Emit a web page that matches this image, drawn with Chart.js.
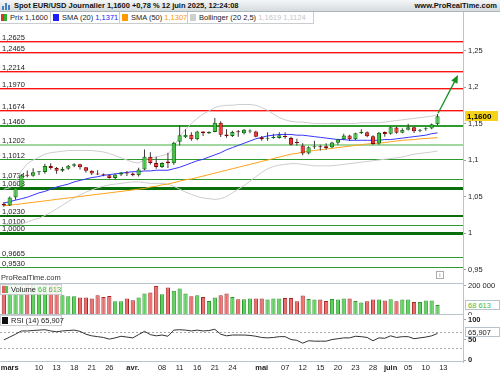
<!DOCTYPE html>
<html><head><meta charset="utf-8">
<script src="https://cdn.jsdelivr.net/npm/chart.js@4.4.1/dist/chart.umd.min.js"></script>
<style>
html,body{margin:0;padding:0;background:#fff;width:500px;height:375px;overflow:hidden;font-family:"Liberation Sans",Arial,sans-serif;}
.a{position:absolute;}
#hdr{left:0;top:0;width:500px;height:12px;background:linear-gradient(#f4f6f7,#d6dbde);border-bottom:1px solid #a9b4bb;box-sizing:border-box;}
#title{left:14px;top:1px;font-weight:bold;font-size:7.5px;line-height:10px;color:#111;white-space:nowrap;}
#site{right:3px;top:1px;font-weight:bold;font-size:7.5px;line-height:10px;color:#111;white-space:nowrap;}
#ico{left:2px;top:2px;width:9px;height:8px;}
#ico i{position:absolute;bottom:0;width:2px;background:#4a7fc0;}
.leg{top:12px;height:12px;border-right:1px solid #c9cdd0;border-bottom:1px solid #c9cdd0;box-sizing:border-box;font-size:7.5px;line-height:11px;color:#222;white-space:nowrap;background:#fff;}
.sw{position:absolute;top:2px;width:6px;height:7px;}
.vl{left:463px;top:12px;width:1px;height:350px;background:#b9c4cb;}
.hl{left:0;width:463px;height:1px;background:#b9c4cb;}
canvas{position:absolute;left:0;}
.box{font-size:7.5px;line-height:10px;white-space:nowrap;box-sizing:border-box;}
</style></head>
<body>
<canvas id="cMain" width="500" height="270" style="top:13px"></canvas>
<canvas id="cVol" width="500" height="32" style="top:283px"></canvas>
<canvas id="cRsi" width="500" height="60" style="top:315px"></canvas>

<div id="hdr" class="a">
  <div id="ico" class="a"><i style="left:0;height:4px"></i><i style="left:3px;height:7px"></i><i style="left:6px;height:5px"></i></div>
  <div id="title" class="a">Spot EUR/USD Journalier 1,1600 +0,78 % 12 juin 2025, 12:24:08</div>
  <div id="site" class="a">www.ProRealTime.com</div>
</div>
<div class="a leg" style="left:0;width:51px;"><span class="sw" style="left:1px;width:3px;background:#e03030"></span><span class="sw" style="left:4px;width:3px;background:#30b030"></span><span class="a" style="left:10px">Prix 1,1600</span></div>
<div class="a leg" style="left:51px;width:69px;"><span class="sw" style="left:2px;background:#2020ff"></span><span class="a" style="left:11px">SMA (20) <span style="color:#2020ff">1,1371</span></span></div>
<div class="a leg" style="left:120px;width:68px;"><span class="sw" style="left:2px;background:#ff9900"></span><span class="a" style="left:11px">SMA (50) <span style="color:#ff9900">1,1307</span></span></div>
<div class="a leg" style="left:188px;width:126px;"><span class="sw" style="left:2px;background:#cfcfcf"></span><span class="a" style="left:11px">Bollinger (20 2,5) <span style="color:#c4c4c4">1,1619 1,1124</span></span></div>

<div class="a vl"></div>
<div class="a hl" style="top:283px"></div>
<div class="a hl" style="top:314px"></div>
<div class="a hl" style="top:361px"></div>

<div class="a box" style="left:1px;top:273px;color:#333;">ProRealTime.com</div>
<div class="a box" style="left:436px;top:271px;width:8px;height:8px;border:1px solid #aaa;font-size:6px;line-height:6px;text-align:center;color:#777;">i</div>
<div class="a box" style="left:0;top:284px;width:62px;height:11px;border:1px solid #c9cdd0;background:rgba(255,255,255,0.85);color:#222;"><span class="sw" style="left:1px;top:1px;width:3px;background:#e06060"></span><span class="sw" style="left:4px;top:1px;width:3px;background:#50c050"></span><span class="a" style="left:10px;top:0">Volume <span style="color:#44bb44">68 613</span></span></div>
<div class="a box" style="left:465px;top:300px;width:35px;height:10px;border:1px solid #b8c4cb;background:#fff;color:#44bb44;padding-left:2px;">68 613</div>
<div class="a box" style="left:0;top:315px;width:62px;height:11px;border:1px solid #c9cdd0;background:#fff;color:#222;"><span class="sw" style="left:1px;top:1px;width:6px;background:#111"></span><span class="a" style="left:10px;top:0">RSI (14) 65,907</span></div>
<div class="a box" style="left:465px;top:327px;width:35px;height:10px;border:1px solid #b8c4cb;background:#fff;color:#222;padding-left:2px;">65,907</div>

<script>
// ---------- DATA ----------
const dates = ['02-28','03-03','03-04','03-05','03-06','03-07','03-10','03-11','03-12','03-13','03-14','03-17','03-18','03-19','03-20','03-21','03-24','03-25','03-26','03-27','03-28','03-31','04-01','04-02','04-03','04-04','04-07','04-08','04-09','04-10','04-11','04-14','04-15','04-16','04-17','04-18','04-21','04-22','04-23','04-24','04-25','04-28','04-29','04-30','05-01','05-02','05-05','05-06','05-07','05-08','05-09','05-12','05-13','05-14','05-15','05-16','05-19','05-20','05-21','05-22','05-23','05-26','05-27','05-28','05-29','05-30','06-02','06-03','06-04','06-05','06-06','06-09','06-10','06-11','06-12'];
const open  = [1.0400,1.0376,1.0485,1.0625,1.0790,1.0785,1.0833,1.0835,1.0918,1.0890,1.0852,1.0880,1.0922,1.0943,1.0900,1.0852,1.0815,1.0800,1.0790,1.0753,1.0800,1.0830,1.0815,1.0790,1.0870,1.1045,1.0960,1.0905,1.0978,1.0955,1.1250,1.1310,1.1345,1.1285,1.1390,1.1365,1.1385,1.1510,1.1350,1.1330,1.1385,1.1365,1.1390,1.1390,1.1310,1.1290,1.1300,1.1300,1.1320,1.1300,1.1245,1.1200,1.1090,1.1175,1.1180,1.1190,1.1175,1.1235,1.1285,1.1335,1.1285,1.1370,1.1380,1.1325,1.1225,1.1385,1.1360,1.1445,1.1375,1.1415,1.1450,1.1400,1.1420,1.1430,1.1490];
const high  = [1.0425,1.0500,1.0630,1.0805,1.0855,1.0888,1.0850,1.0947,1.0955,1.0905,1.0905,1.0930,1.0955,1.0950,1.0905,1.0860,1.0858,1.0815,1.0800,1.0810,1.0833,1.0850,1.0830,1.0895,1.1145,1.1107,1.1046,1.0970,1.1100,1.1250,1.1475,1.1420,1.1380,1.1400,1.1395,1.1395,1.1574,1.1530,1.1420,1.1400,1.1410,1.1425,1.1420,1.1400,1.1330,1.1380,1.1360,1.1380,1.1380,1.1320,1.1290,1.1230,1.1190,1.1265,1.1210,1.1230,1.1250,1.1290,1.1360,1.1345,1.1375,1.1420,1.1390,1.1340,1.1385,1.1390,1.1455,1.1455,1.1435,1.1495,1.1455,1.1425,1.1450,1.1500,1.1631];
const low   = [1.0360,1.0370,1.0455,1.0620,1.0765,1.0770,1.0795,1.0810,1.0870,1.0810,1.0835,1.0865,1.0900,1.0870,1.0830,1.0795,1.0795,1.0776,1.0745,1.0733,1.0780,1.0780,1.0776,1.0775,1.0860,1.0940,1.0880,1.0890,1.0890,1.0935,1.1200,1.1300,1.1265,1.1270,1.1330,1.1355,1.1380,1.1315,1.1306,1.1315,1.1320,1.1350,1.1365,1.1310,1.1265,1.1265,1.1290,1.1290,1.1290,1.1200,1.1200,1.1065,1.1080,1.1150,1.1130,1.1140,1.1160,1.1210,1.1270,1.1260,1.1270,1.1355,1.1310,1.1210,1.1210,1.1320,1.1345,1.1360,1.1365,1.1405,1.1370,1.1380,1.1400,1.1420,1.1480];
const close = [1.0376,1.0485,1.0625,1.0790,1.0785,1.0833,1.0835,1.0918,1.0890,1.0852,1.0880,1.0922,1.0943,1.0900,1.0852,1.0815,1.0800,1.0790,1.0753,1.0800,1.0830,1.0815,1.0790,1.0870,1.1045,1.0960,1.0905,1.0960,1.0955,1.1235,1.1340,1.1345,1.1285,1.1390,1.1365,1.1385,1.1510,1.1345,1.1330,1.1385,1.1380,1.1415,1.1400,1.1320,1.1285,1.1295,1.1310,1.1340,1.1315,1.1210,1.1233,1.1090,1.1175,1.1180,1.1175,1.1165,1.1240,1.1285,1.1335,1.1285,1.1365,1.1385,1.1325,1.1220,1.1375,1.1355,1.1450,1.1375,1.1415,1.1450,1.1395,1.1415,1.1420,1.1490,1.1600];
const sma20 = [1.041,1.043,1.045,1.047,1.049,1.052,1.055,1.057,1.060,1.063,1.065,1.067,1.070,1.072,1.074,1.076,1.077,1.079,1.080,1.081,1.082,1.083,1.084,1.084,1.085,1.085,1.086,1.086,1.086,1.088,1.090,1.093,1.096,1.099,1.101,1.104,1.107,1.110,1.114,1.117,1.120,1.123,1.126,1.129,1.131,1.133,1.134,1.135,1.135,1.135,1.134,1.134,1.133,1.132,1.131,1.130,1.129,1.128,1.128,1.127,1.127,1.127,1.127,1.127,1.127,1.128,1.128,1.129,1.130,1.131,1.132,1.133,1.134,1.136,1.1371];
const sma50 = [1.0375,1.038,1.039,1.040,1.041,1.042,1.043,1.044,1.045,1.046,1.047,1.048,1.049,1.050,1.051,1.052,1.053,1.054,1.055,1.056,1.057,1.058,1.059,1.060,1.061,1.063,1.064,1.066,1.067,1.069,1.071,1.073,1.074,1.076,1.078,1.080,1.082,1.084,1.086,1.088,1.090,1.092,1.094,1.096,1.098,1.100,1.102,1.104,1.106,1.108,1.109,1.111,1.112,1.113,1.114,1.115,1.116,1.117,1.118,1.119,1.120,1.121,1.122,1.1225,1.123,1.124,1.125,1.126,1.127,1.1275,1.128,1.129,1.1295,1.130,1.1307];
const bbUpper = [1.060,1.062,1.070,1.085,1.095,1.100,1.104,1.108,1.110,1.111,1.112,1.113,1.113,1.113,1.113,1.113,1.112,1.111,1.109,1.106,1.103,1.100,1.097,1.096,1.100,1.103,1.104,1.106,1.108,1.118,1.132,1.142,1.150,1.157,1.163,1.167,1.172,1.174,1.175,1.175,1.176,1.176,1.176,1.175,1.172,1.168,1.163,1.158,1.155,1.153,1.152,1.152,1.151,1.150,1.150,1.150,1.150,1.150,1.150,1.150,1.150,1.151,1.151,1.151,1.151,1.152,1.153,1.154,1.155,1.156,1.157,1.158,1.159,1.160,1.1619];
const bbLower = [1.012,1.012,1.012,1.012,1.015,1.018,1.020,1.024,1.028,1.033,1.038,1.043,1.048,1.052,1.056,1.059,1.062,1.064,1.066,1.067,1.068,1.069,1.070,1.070,1.069,1.068,1.068,1.068,1.067,1.064,1.060,1.056,1.053,1.050,1.048,1.047,1.046,1.047,1.050,1.055,1.060,1.065,1.071,1.077,1.083,1.088,1.091,1.093,1.094,1.095,1.095,1.094,1.093,1.092,1.092,1.092,1.092,1.093,1.094,1.095,1.096,1.097,1.098,1.099,1.100,1.101,1.102,1.103,1.104,1.106,1.108,1.109,1.110,1.111,1.1124];
const volume = [205000,215000,235000,250000,240000,220000,200000,215000,210000,205000,135000,128000,128000,119000,119000,112000,135000,123000,130000,93000,93000,112000,100000,119000,147000,154000,198000,142000,188000,165000,181000,147000,128000,135000,123000,95000,119000,135000,147000,123000,107000,107000,112000,112000,112000,105000,112000,112000,116000,116000,93000,133000,109000,105000,105000,95000,109000,105000,112000,112000,95000,86000,93000,105000,105000,98000,107000,93000,105000,105000,88000,88000,98000,98000,68613];
const rsi = [50,57,64,72,72,73,74,75,72,70,72,73,74,71,64,60,58,56,52,55,59,57,55,63,71,63,60,62,59,74,75,74,72,74,72,73,76,64,60,62,62,62,61,59,56,55,56,58,58,51,49,42,48,47,47,47,51,53,55,55,59,58,56,48,55,54,60,56,58,58,53,55,57,60,65.907];

const levelPrices = [1.2625,1.2465,1.2214,1.1970,1.1674,1.1460,1.1202,1.1012,1.0734,1.0608,1.0230,1.0100,1.0000,0.9665,0.9530];
const levelLabels = ['1,2625','1,2465','1,2214','1,1970','1,1674','1,1460','1,1202','1,1012','1,0734','1,0608','1,0230','1,0100','1,0000','0,9665','0,9530'];
const priceTicks = [0.95,1.0,1.05,1.1,1.15,1.2,1.25];
const priceTickLabels = ['0,95','1','1,05','1,1','1,15','1,2','1,25'];
const volTicks = [0,100000,200000];
const volTickLabels = ['0','100 000','200 000'];
const rsiTicks = [0,50,100];
const rsiTickLabels = ['0','50','100'];
const xTickIndex = [1,6,9,12,15,18,22,27,30,33,36,39,44,48,51,54,57,60,63,66,69,72,75];
const xTickLabels = ['mars','10','13','18','21','26','avr.','08','11','16','21','24','mai','07','12','15','20','23','28','juin','05','10','13'];
const monthLabels = ['mars','avr.','mai','juin'];
const arrowFrom = [74.1, 1.1640];
const arrowTo = [77.5, 1.2165];
const lastPriceLabel = '1,1600';

// ---------- STYLES ----------
const LVL_RED='rgb(250,20,20)', G1='#2f9a2f', GL='#9fd79f', GD='#0a6e0a';
const levelStyles = [[LVL_RED,1.4],[LVL_RED,1.4],[LVL_RED,1.4],[LVL_RED,1.4],[LVL_RED,1.4],[G1,2],[GL,2],[G1,1],[G1,1],[GD,3],[GD,2],[G1,1],[GD,3],[G1,1],[G1,1]];
const X_MIN = -0.655, X_MAX = 78.35, AXIS_W = 37;
const FONT = 'Liberation Sans';
Chart.defaults.font.family = FONT;
Chart.defaults.font.size = 7.5;
Chart.defaults.color = '#222';
Chart.defaults.animation = false;

const upCol='#3dc43d', upBd='#0b6b0b', dnCol='#f03232', dnBd='#8b0000';
const isUp = i => close[i] >= open[i];
const xs = dates.map((d,i)=>i);

function rightAxis(min,max,ticks,labels,extra){
  return Object.assign({
    position:'right', min, max,
    afterBuildTicks: s => { s.ticks = ticks.map(v=>({value:v})); },
    afterFit: s => { s.width = AXIS_W; s.paddingTop = 0; s.paddingBottom = 0; },
    ticks:{ callback:(v,i)=>labels[i], padding:2, color:'#222', font:{size:7.5} },
    grid:{ drawOnChartArea:false, drawTicks:true, tickLength:3, color:'#9aa6ad' },
    border:{ display:true, color:'#b9c4cb' }
  }, extra||{});
}
const hiddenX = { type:'linear', min:X_MIN, max:X_MAX, offset:false, display:false,
  afterFit: s=>{ s.paddingLeft=0; s.paddingRight=0; } };

const levelsPlugin = {
  id:'levels',
  beforeDatasetsDraw(chart){
    const {ctx, chartArea:a, scales:{y}} = chart;
    ctx.save();
    levelPrices.forEach((p,k)=>{
      const c = levelStyles[k][0], w = levelStyles[k][1];
      const top = Math.round(y.getPixelForValue(p) - w/2);
      ctx.fillStyle = c;
      ctx.fillRect(a.left, top, a.right - a.left, w);
      ctx.fillStyle='#222'; ctx.font='7.5px '+FONT; ctx.textBaseline='alphabetic'; ctx.textAlign='left';
      ctx.fillText(levelLabels[k], 2, top - 1.5);
    });
    ctx.restore();
  },
  afterDatasetsDraw(chart){
    const {ctx, scales:{x,y}} = chart;
    const x0=x.getPixelForValue(arrowFrom[0]), y0=y.getPixelForValue(arrowFrom[1]);
    const x1=x.getPixelForValue(arrowTo[0]), y1=y.getPixelForValue(arrowTo[1]);
    const ang=Math.atan2(y1-y0,x1-x0), L=8, W=3.5;
    ctx.save();
    ctx.strokeStyle='#14911f'; ctx.fillStyle='#14911f'; ctx.lineWidth=1.3;
    ctx.beginPath(); ctx.moveTo(x0,y0);
    ctx.lineTo(x1-Math.cos(ang)*L*0.8, y1-Math.sin(ang)*L*0.8); ctx.stroke();
    ctx.beginPath(); ctx.moveTo(x1,y1);
    ctx.lineTo(x1-Math.cos(ang)*L-Math.sin(ang)*W, y1-Math.sin(ang)*L+Math.cos(ang)*W);
    ctx.lineTo(x1-Math.cos(ang)*L+Math.sin(ang)*W, y1-Math.sin(ang)*L-Math.cos(ang)*W);
    ctx.closePath(); ctx.fill();
    ctx.restore();
  },
  afterDraw(chart){
    const {ctx, chartArea:a, scales:{y}} = chart;
    const py = Math.round(y.getPixelForValue(close[close.length-1]));
    ctx.save();
    ctx.fillStyle='#f5d31a'; ctx.fillRect(a.right+2, py-5, 33, 10);
    ctx.fillStyle='#000'; ctx.font='bold 8px '+FONT; ctx.textBaseline='middle'; ctx.textAlign='left';
    ctx.fillText(lastPriceLabel, a.right+4, py+0.5);
    ctx.restore();
  }
};

const lineDs = (data,color,order)=>({ type:'line', data:xs.map(i=>({x:i,y:data[i]})), borderColor:color, borderWidth:1, pointRadius:0, tension:0, order });

new Chart(document.getElementById('cMain'),{
  type:'bar',
  data:{ datasets:[
    lineDs(bbUpper,'#cdcdcd',6),
    lineDs(bbLower,'#cdcdcd',6),
    lineDs(sma50,'#ffa21a',5),
    lineDs(sma20,'#3535ff',4),
    { data:xs.map(i=>({x:i,y:[low[i],high[i]]})), backgroundColor:'#3a3a3a', borderWidth:0, grouped:false, maxBarThickness:1, order:2 },
    { data:xs.map(i=>({x:i,y:[open[i],close[i]]})), backgroundColor:xs.map(i=>isUp(i)?upCol:dnCol), borderColor:xs.map(i=>isUp(i)?upBd:dnBd), borderWidth:1, borderSkipped:false, grouped:false, maxBarThickness:5, minBarLength:1, order:1 }
  ]},
  options:{ responsive:false, maintainAspectRatio:false, layout:{padding:0},
    plugins:{legend:{display:false}, tooltip:{enabled:false}},
    scales:{ x:hiddenX, y:rightAxis(0.93151,1.30137,priceTicks,priceTickLabels) } },
  plugins:[levelsPlugin]
});

new Chart(document.getElementById('cVol'),{
  type:'bar',
  data:{ datasets:[
    { data:xs.map(i=>({x:i,y:volume[i]})), backgroundColor:xs.map(i=>isUp(i)?'#5cd25c':'#ec6b6b'), borderColor:xs.map(i=>isUp(i)?'#2a962a':'#a82828'), borderWidth:1, borderSkipped:'start', grouped:false, maxBarThickness:5 }
  ]},
  options:{ responsive:false, maintainAspectRatio:false, layout:{padding:0},
    plugins:{legend:{display:false}, tooltip:{enabled:false}},
    scales:{ x:hiddenX, y:rightAxis(0,218000,volTicks,volTickLabels) } }
});

const rsiPlugin = {
  id:'rsiLines',
  beforeDatasetsDraw(chart){
    const {ctx, chartArea:a, scales:{y}} = chart;
    ctx.save(); ctx.strokeStyle='#a8a8a8'; ctx.lineWidth=1; ctx.setLineDash([2,2]);
    [30,70].forEach(v=>{ const py=Math.round(y.getPixelForValue(v))+0.5; ctx.beginPath(); ctx.moveTo(a.left,py); ctx.lineTo(a.right,py); ctx.stroke(); });
    ctx.restore();
  }
};
new Chart(document.getElementById('cRsi'),{
  type:'line',
  data:{ datasets:[ { data:xs.map(i=>({x:i,y:rsi[i]})), borderColor:'#333', borderWidth:1, pointRadius:0, tension:0 } ]},
  options:{ responsive:false, maintainAspectRatio:false, layout:{padding:0},
    plugins:{legend:{display:false}, tooltip:{enabled:false}},
    scales:{
      x:{ type:'linear', min:X_MIN, max:X_MAX, offset:false,
        afterBuildTicks: s => { s.ticks = xTickIndex.map(v=>({value:v})); },
        afterFit: s=>{ s.height=13; s.paddingLeft=0; s.paddingRight=0; },
        ticks:{ autoSkip:false, maxRotation:0, padding:1, color:'#222',
          callback:(v,i)=>xTickLabels[i],
          font:(c)=>({size:7.5, family:FONT, weight: monthLabels.includes(xTickLabels[c.index])?'bold':'normal'}) },
        grid:{ display:false, drawTicks:false, tickLength:0 }, border:{ display:false } },
      y: rightAxis(-4,111,rsiTicks,rsiTickLabels,{ ticks:{ callback:(v,i)=>rsiTickLabels[i], padding:2, color:'#222', font:{size:7.5, weight:'bold'} } })
    } },
  plugins:[rsiPlugin]
});
</script>
</body></html>
